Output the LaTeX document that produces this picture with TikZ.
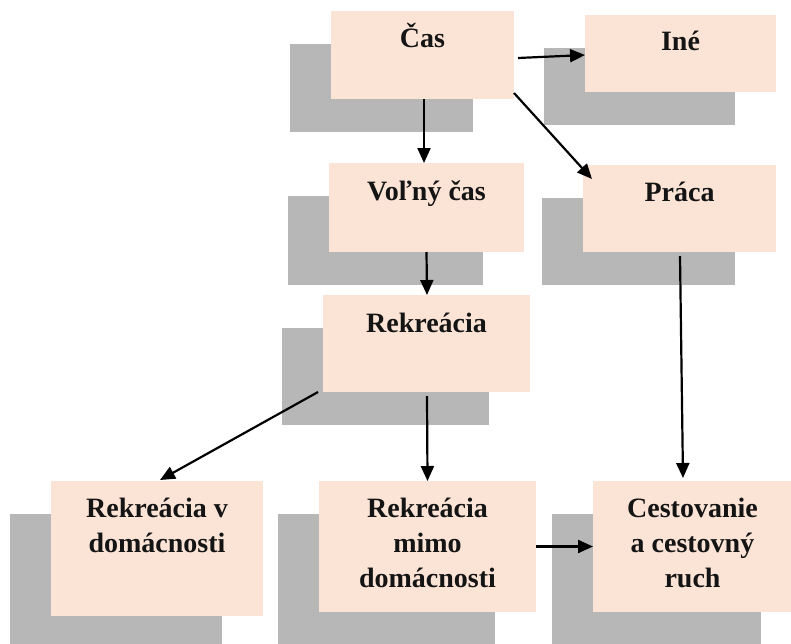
\documentclass[tikz,border=0pt]{standalone}
\usepackage{fontspec}
\setmainfont{Liberation Serif}
\usetikzlibrary{shadows,arrows.meta}
\definecolor{peach}{RGB}{251,228,214}
\definecolor{shade}{RGB}{183,183,183}
\tikzset{
  boxnode/.style={rectangle, fill=peach, inner sep=0pt, outer sep=0pt,
    general shadow={fill=shade, shadow xshift=-41pt, shadow yshift=-33pt}},
  lbl/.style={anchor=north, inner sep=0pt, align=center, text=black!92,
    font=\bfseries\fontsize{28}{35}\selectfont},
  arr/.style={-{Triangle[length=15pt,width=13pt]}, line width=2.2pt}
}
\newcommand{\hstrut}{\rule{0pt}{25pt}}
\begin{document}
\begin{tikzpicture}[x=1pt,y=-1pt]
\useasboundingbox (0,0) rectangle (791,643);
\clip (0,0) rectangle (791,643);
% boxes
\node[boxnode, minimum width=183pt, minimum height=88pt] (cas) at (422.5,55) {};
\node[boxnode, minimum width=191pt, minimum height=77pt] (ine) at (680.5,53.5) {};
\node[boxnode, minimum width=195pt, minimum height=89pt] (volny) at (426.5,207.5) {};
\node[boxnode, minimum width=193pt, minimum height=87pt] (praca) at (679.5,208.5) {};
\node[boxnode, minimum width=207pt, minimum height=97pt] (rek) at (426.5,343.5) {};
\node[boxnode, minimum width=212pt, minimum height=135pt] (rekv) at (157,548.5) {};
\node[boxnode, minimum width=217pt, minimum height=131pt] (mimo) at (427.5,546.5) {};
\node[boxnode, minimum width=209pt, minimum height=131pt] (cest) at (697.5,546.5) {};
% labels
\node[lbl] (tcas) at ([yshift=-11pt]cas.north) {\hstrut Čas};
\node[lbl] (tine) at ([yshift=-10pt]ine.north) {\hstrut Iné};
\node[lbl] (tvolny) at ([yshift=-12pt]volny.north) {\hstrut Voľný čas};
\node[lbl] (tpraca) at ([yshift=-11pt]praca.north) {\hstrut Práca};
\node[lbl] (trek) at ([yshift=-12pt]rek.north) {\hstrut Rekreácia};
\node[lbl] (trekv) at ([yshift=-11pt]rekv.north) {\hstrut Rekreácia v\\domácnosti};
\node[lbl] (tmimo) at ([yshift=-11pt]mimo.north) {\hstrut Rekreácia\\mimo\\domácnosti};
\node[lbl] (tcest) at ([xshift=-5pt,yshift=-11pt]cest.north) {\hstrut Cestovanie\\a cestovný\\ruch};
% connectors
\draw[arr] ([shift={(1.5,0)}]cas.south) -- ([shift={(-2.5,0)}]volny.north);
\draw[arr] ([shift={(4,3)}]cas.east) -- ([shift={(0,1.5)}]ine.west);
\draw[arr] ([shift={(0,-6)}]cas.south east) -- ([shift={(9,14)}]praca.north west);
\draw[arr] (volny.south) -- ([shift={(0.5,0)}]rek.north);
\draw[arr] ([shift={(-5,0)}]rek.south west) -- ([shift={(3,-1)}]rekv.north);
\draw[arr] ([shift={(0.5,4)}]rek.south) -- (mimo.north);
\draw[arr] ([shift={(0.5,4)}]praca.south) -- ([shift={(-14.5,-3)}]cest.north);
\draw[arr] (mimo.east) -- (cest.west);
\end{tikzpicture}
\end{document}
